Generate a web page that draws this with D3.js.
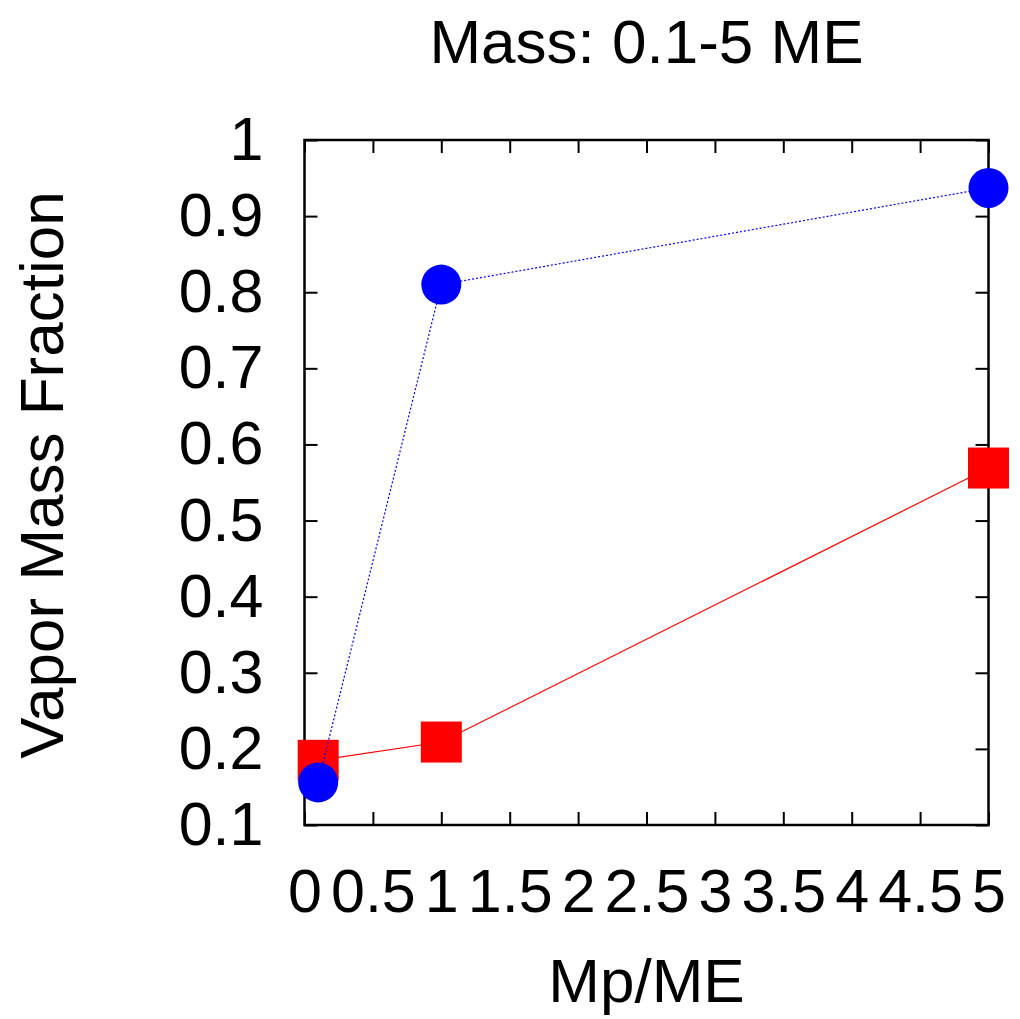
<!DOCTYPE html>
<html>
<head>
<meta charset="utf-8">
<script src="https://cdn.jsdelivr.net/npm/d3@7"></script>
<style>
  body { margin: 0; background: #fff; }
  text { font-family: "Liberation Sans", Arial, sans-serif; fill: #000; }
</style>
</head>
<body>
<svg id="svg1" width="1020" height="1019"></svg>
<script>
// data
var massX = [0.1, 1, 5];
var redY = [0.185, 0.209, 0.569];
var blueY = [0.156, 0.810, 0.937];
var xTicks = [0, 0.5, 1, 1.5, 2, 2.5, 3, 3.5, 4, 4.5, 5];
var yTicks = [0.1, 0.2, 0.3, 0.4, 0.5, 0.6, 0.7, 0.8, 0.9, 1];

var plotLeft = 304.5, plotRight = 988.5, plotTop = 140, plotBottom = 825;
var tickLen = 13;

var svg = d3.select('#svg1');

var x = d3.scaleLinear().domain([0, 5]).range([plotLeft, plotRight]);
var y = d3.scaleLinear().domain([0.1, 1]).range([plotBottom, plotTop]);

var fmt = function (d) { return String(+d.toFixed(1)); };

// axes with inward ticks
svg.append('g')
    .attr('transform', 'translate(0,' + plotBottom + ')')
    .call(d3.axisBottom(x).tickValues(xTicks).tickSizeInner(-tickLen).tickSizeOuter(0).tickPadding(tickLen + 31).tickFormat(fmt));
svg.append('g')
    .attr('transform', 'translate(0,' + plotTop + ')')
    .call(d3.axisTop(x).tickValues(xTicks).tickSizeInner(-tickLen).tickSizeOuter(0).tickFormat(''));
svg.append('g')
    .attr('transform', 'translate(' + plotLeft + ',0)')
    .call(d3.axisLeft(y).tickValues(yTicks).tickSizeInner(-tickLen).tickSizeOuter(0).tickPadding(tickLen + 28).tickFormat(fmt));
svg.append('g')
    .attr('transform', 'translate(' + plotRight + ',0)')
    .call(d3.axisRight(y).tickValues(yTicks).tickSizeInner(-tickLen).tickSizeOuter(0).tickFormat(''));

svg.selectAll('.domain').remove();
svg.selectAll('.tick line').attr('stroke', '#000').attr('stroke-width', 2);
svg.selectAll('.tick text').attr('font-size', 61).attr('font-family', '"Liberation Sans", Arial, sans-serif');

svg.append('rect')
    .attr('x', plotLeft).attr('y', plotTop)
    .attr('width', plotRight - plotLeft).attr('height', plotBottom - plotTop)
    .attr('fill', 'none').attr('stroke', '#000').attr('stroke-width', 2.5);

var pts = function (ys) { return massX.map(function (d, i) { return [d, ys[i]]; }); };
var line = d3.line().x(function (d) { return x(d[0]); }).y(function (d) { return y(d[1]); });

// red series
svg.append('path')
    .datum(pts(redY))
    .attr('d', line)
    .attr('fill', 'none')
    .attr('stroke', '#ff0000')
    .attr('stroke-width', 1.2);
svg.selectAll('rect.sq')
    .data(pts(redY))
    .enter()
    .append('rect')
    .attr('class', 'sq')
    .attr('x', function (d) { return x(d[0]) - 20.5; })
    .attr('y', function (d) { return y(d[1]) - 20.5; })
    .attr('width', 41).attr('height', 41)
    .attr('fill', '#ff0000');

// blue series
svg.append('path')
    .datum(pts(blueY))
    .attr('d', line)
    .attr('fill', 'none')
    .attr('stroke', '#0000ff')
    .attr('stroke-width', 1.2)
    .attr('stroke-dasharray', '2,2');
svg.selectAll('circle.dot')
    .data(pts(blueY))
    .enter()
    .append('circle')
    .attr('class', 'dot')
    .attr('cx', function (d) { return x(d[0]); })
    .attr('cy', function (d) { return y(d[1]); })
    .attr('r', 20)
    .attr('fill', '#0000ff');

// titles
svg.append('text')
    .attr('x', (plotLeft + plotRight) / 2).attr('y', 63)
    .attr('text-anchor', 'middle').attr('font-size', 62)
    .text('Mass: 0.1-5 ME');
svg.append('text')
    .attr('x', (plotLeft + plotRight) / 2).attr('y', 1002)
    .attr('text-anchor', 'middle').attr('font-size', 62)
    .text('Mp/ME');
svg.append('text')
    .attr('transform', 'translate(63,475) rotate(-90)')
    .attr('text-anchor', 'middle').attr('font-size', 62)
    .text('Vapor Mass Fraction');
</script>
</body>
</html>
